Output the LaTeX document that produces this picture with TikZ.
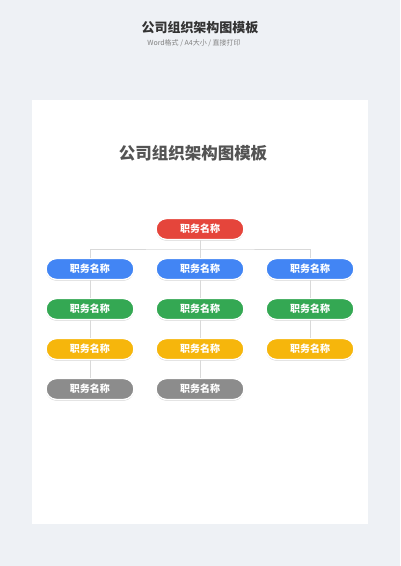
\documentclass[tikz,border=0pt]{standalone}
\usepackage{fontspec}
\usepackage{xcolor}
\usetikzlibrary{shadows}
\setmainfont{Noto Sans CJK SC}

\definecolor{bgc}{HTML}{EEF1F5}
\definecolor{cred}{HTML}{E5453B}
\definecolor{cblue}{HTML}{4285F4}
\definecolor{cgreen}{HTML}{34A853}
\definecolor{cyellow}{HTML}{F6B60C}
\definecolor{cgray}{HTML}{8C8C8C}
\definecolor{lnc}{HTML}{D9D9D9}

\begin{document}
\begin{tikzpicture}[x=1pt,y=-1pt,
    pill/.style={rounded corners=10.5pt,minimum width=88pt,minimum height=21pt,inner sep=0pt,
      draw=white,line width=1.4pt,text=white,font=\fontsize{10}{11}\selectfont\bfseries,
      drop shadow={shadow xshift=0pt,shadow yshift=-1.2pt,opacity=0.3,fill=black!60}},
    link/.style={draw=lnc,line width=0.8pt}]
            		\useasboundingbox (0,0) rectangle (400,566);
            		\fill [bgc] (0,0) rectangle (400,566);
            		\fill [white,drop shadow={shadow xshift=0pt,shadow yshift=0pt,opacity=0.08}] (32,100) rectangle (368,524);

            		\node (t) at (200,28) [text=black!80,font=\fontsize{13}{14}\selectfont\bfseries] {公司组织架构图模板};
            		\node (s) at (194,43) [text=black!50,font=\fontsize{7}{8}\selectfont] {Word格式 / A4大小 / 直接打印};
            		\node (h) at (193,153) [text=black!67,font=\fontsize{16.5}{18}\selectfont\bfseries] {公司组织架构图模板};

            		\node (r) at (200,229) [pill,fill=cred] {职务名称};
            		\node (b1) at (90,269) [pill,fill=cblue] {职务名称};
            		\node (b2) at (200,269) [pill,fill=cblue] {职务名称};
            		\node (b3) at (310,269) [pill,fill=cblue] {职务名称};
            		\node (g1) at (90,309) [pill,fill=cgreen] {职务名称};
            		\node (g2) at (200,309) [pill,fill=cgreen] {职务名称};
            		\node (g3) at (310,309) [pill,fill=cgreen] {职务名称};
            		\node (y1) at (90,349) [pill,fill=cyellow] {职务名称};
            		\node (y2) at (200,349) [pill,fill=cyellow] {职务名称};
            		\node (y3) at (310,349) [pill,fill=cyellow] {职务名称};
            		\node (k1) at (90,389) [pill,fill=cgray] {职务名称};
            		\node (k2) at (200,389) [pill,fill=cgray] {职务名称};
            		\coordinate (m) at (200,249);

            		\draw [link] (r) -- (m) (b1.north) |- (m) -| (b3.north) (m) -- (b2);
            		\draw [link] (b1) -- (g1) -- (y1) -- (k1) (b2) -- (g2) -- (y2) -- (k2) (b3) -- (g3) -- (y3);

        		\end{tikzpicture}
\end{document}
